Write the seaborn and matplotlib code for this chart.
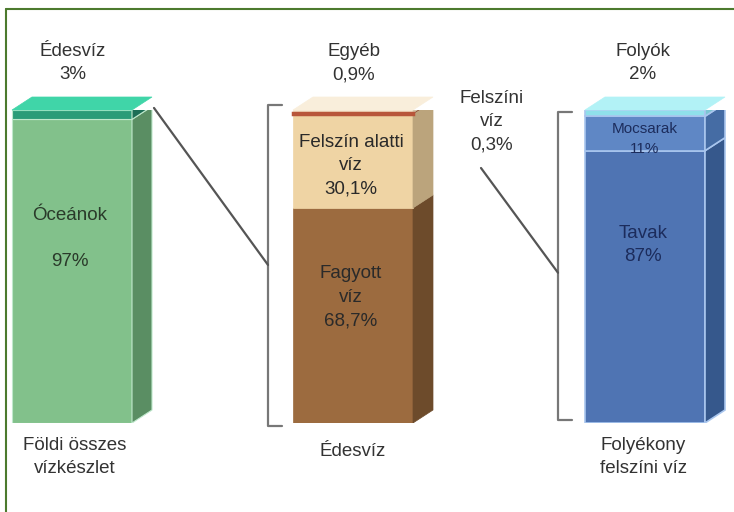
import matplotlib
matplotlib.use('Agg')
import matplotlib.pyplot as plt
import seaborn as sns
from matplotlib.patches import Polygon
from matplotlib.lines import Line2D

# data (percent)
earth_labels = ['Óceánok', 'Édesvíz']
earth_values = [97, 3]
fresh_labels = ['Fagyott víz', 'Felszín alatti víz', 'Felszíni víz', 'Egyéb']
fresh_values = [68.7, 30.1, 0.3, 0.9]
surface_labels = ['Tavak', 'Mocsarak', 'Folyók']
surface_values = [87, 11, 2]
group_labels = ['Földi összes\nvízkészlet', 'Édesvíz', 'Folyékony\nfelszíni víz']

sns.set_theme(style='white')
plt.rcParams['font.family'] = ['Liberation Sans', 'DejaVu Sans']

W, H = 734, 512
fig = plt.figure(figsize=(W / 100, H / 100), dpi=100)
fig.patch.set_facecolor('white')

BASE, TOP = 423, 110           # pixel rows of 0 % and 100 %
ax = fig.add_axes([0, (H - BASE) / H, 1, (BASE - TOP) / H])
ax.set_xlim(0, W)
ax.set_ylim(0, 100)
ax.axis('off')

DX = 20
DY = 13 / (BASE - TOP) * 100


def px(x, y):
    return x / W, 1 - y / H


def draw_stack(left, width, values, fronts, sides, top_color, edge=None, lw=0):
    bottom = 0
    for i, v in enumerate(values):
        ax.bar(left, v, width=width, bottom=bottom, align='edge', color=fronts[i],
               edgecolor=edge if edge else fronts[i], linewidth=lw if edge else 0.5)
        r = left + width
        ax.add_patch(Polygon([(r, bottom), (r + DX, bottom + DY), (r + DX, bottom + v + DY), (r, bottom + v)],
                             closed=True, facecolor=sides[i],
                             edgecolor=edge if edge else sides[i], linewidth=lw if edge else 0.5))
        bottom += v
    ax.add_patch(Polygon([(left, bottom), (left + width, bottom), (left + width + DX, bottom + DY),
                          (left + DX, bottom + DY)], closed=True, facecolor=top_color,
                         edgecolor=top_color, linewidth=0.5, clip_on=False))


draw_stack(12, 120, earth_values, ['#82c18b', '#2b9c78'], ['#5a8e63', '#1d6e56'], '#40d5a8',
           edge='#bfe8cc', lw=0.8)
draw_stack(293, 120, fresh_values, ['#9c6b3f', '#efd4a4', '#b8563a', '#f5e4c8'],
           ['#6d4b2b', '#bba47c', '#8c4a34', '#d4c4a6'], '#f9eedb')
# make the thin surface-water band visible
ax.bar(293, fresh_values[2], width=120, bottom=sum(fresh_values[:2]), align='edge',
       color='#b8563a', edgecolor='#b8563a', linewidth=2.5)
draw_stack(585, 120, surface_values, ['#4f74b3', '#5f87c5', '#8fe0ea'],
           ['#36588c', '#456ca4', '#7bc5d2'], '#b2f2f6', edge='#a9c6ee', lw=1.2)

# brackets and connector lines
lc = '#555555'
for bx, top_p, bot_p in [(268, 101.5, -0.8), (558, 99.5, 0.8)]:
    ax.plot([bx + 14, bx, bx, bx + 14], [top_p, top_p, bot_p, bot_p], color='#777777', lw=1.6,
            clip_on=False)
ax.plot([12 + 120 + DX + 2, 268], [earth_values[0] + DY - 0.5, 50.5], color=lc, lw=1.6, clip_on=False)
ax.plot([481, 558], [(BASE - 168) / (BASE - TOP) * 100, 48], color=lc, lw=1.6, clip_on=False)

# texts
tc = '#333333'
navy = '#1c2c5c'
big = 13.5
texts = [
    ('Édesvíz\n3%', 73, 63, big, tc),
    ('Óceánok', 70, 215, big, '#2a3a2a'),
    ('97%', 70, 262, big, '#2a3a2a'),
    ('Egyéb\n0,9%', 354, 63, big, tc),
    ('Felszíni\nvíz\n0,3%', 492, 122, big, tc),
    ('Felszín alatti\nvíz\n30,1%', 351, 166, big, '#2a2a2a'),
    ('Fagyott\nvíz\n68,7%', 351, 297, big, '#2a2a2a'),
    ('Folyók\n2%', 643, 63, big, tc),
    ('Mocsarak\n11%', 645, 139, 11, navy),
    ('Tavak\n87%', 643, 245, big, navy),
    (group_labels[0], 75, 457, big, tc),
    (group_labels[1], 353, 452, big, tc),
    (group_labels[2], 643, 457, big, tc),
]
for s, x, y, fs, c in texts:
    ls = 1.5 if fs > 12 else 1.6
    fig.text(*px(x, y), s, ha='center', va='center', fontsize=fs, color=c, linespacing=ls)

# green frame on left and top
fc = '#4c7a2e'
fig.add_artist(Line2D([6 / W, 6 / W], [0, 1 - 9 / H], color=fc, lw=1.5, transform=fig.transFigure))
fig.add_artist(Line2D([6 / W, 1], [1 - 9 / H, 1 - 9 / H], color=fc, lw=1.5, transform=fig.transFigure))

fig.savefig('out.png', dpi=100, facecolor='white')
